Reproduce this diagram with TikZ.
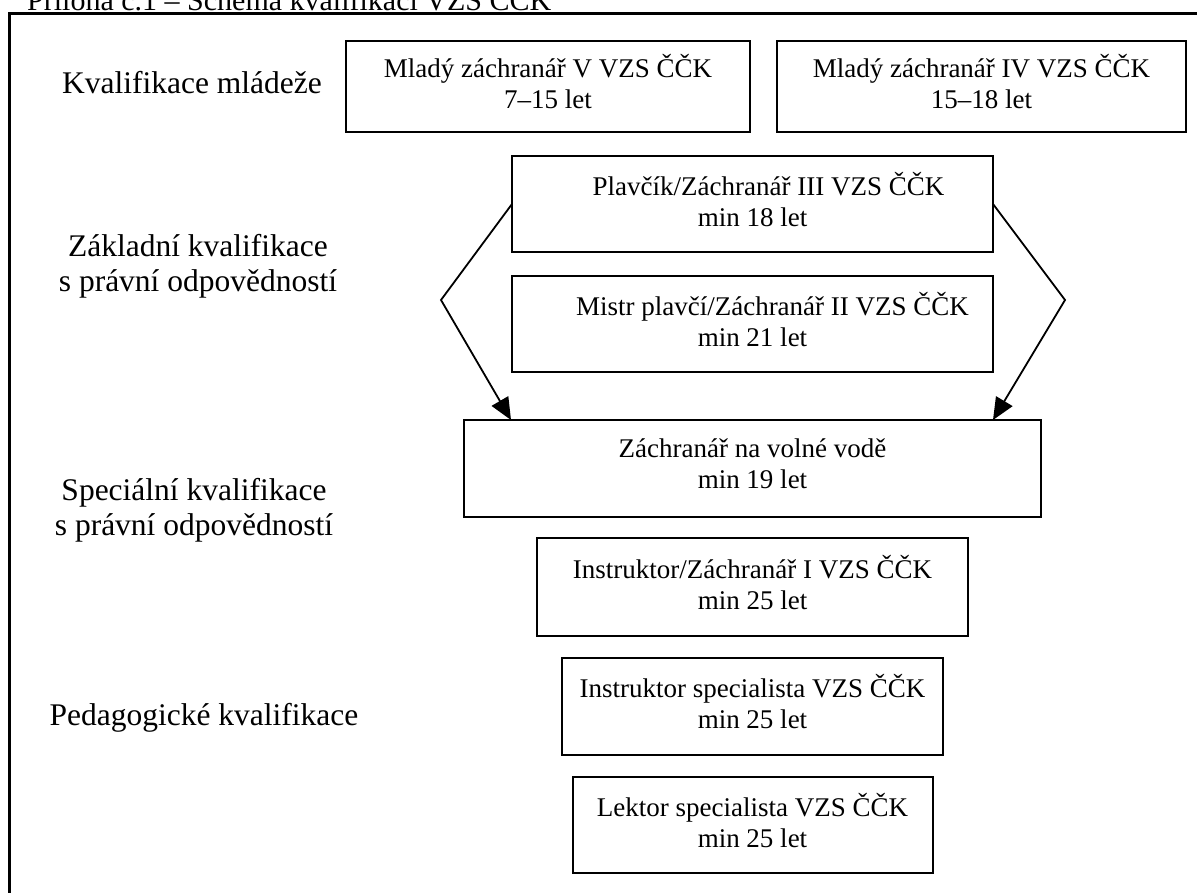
\documentclass[tikz,border=0pt]{standalone}
\usepackage{fontspec}
\setmainfont{Liberation Serif}
\usetikzlibrary{positioning, calc, arrows.meta}
\newcommand{\boxfont}{\fontsize{27}{31}\selectfont}
\newcommand{\lblfont}{\fontsize{31.5}{35}\selectfont}
% lifts the two lines of a box a little above its centre
\newcommand{\boxend}{\\[-21pt]\mbox{}}
\begin{document}
\begin{tikzpicture}[
  x=1pt, y=-1pt,
  box/.style={draw, line width=2pt, outer sep=0pt, inner sep=0pt, align=center, font=\boxfont},
  lbl/.style={align=center, font=\lblfont},
  frame/.style={line width=3pt},
  arr/.style={line width=1.8pt, -{Triangle[length=22pt, width=19pt]}}
]
  \useasboundingbox (0,0) rectangle (1197,893);
  \clip (0,0) rectangle (1197,893);

  % Title and frame
  \node[anchor=base west, inner sep=0pt, font=\fontsize{30}{34}\selectfont] (title) at (27,11)
    {Příloha č.1 – Schéma kvalifikací VZS ČČK};
  \draw[frame] (9.5,900) -- (9.5,14) -- (1210,14);

  % Level labels
  \node[lbl, anchor=base] (mladez) at (192,94) {Kvalifikace mládeže};
  \node[lbl] (zakladni) at (198,266) {Základní kvalifikace\\s právní odpovědností};
  \node[lbl] (specialni) at (194,510) {Speciální kvalifikace\\s právní odpovědností};
  \node[lbl, anchor=base] (pedag) at (204,725) {Pedagogické kvalifikace};

  % Nodes
  \node[box, minimum width=404pt, minimum height=91pt] (mzV) at (548,86.5)
    {Mladý záchranář V VZS ČČK\\7–15 let\boxend};
  \node[box, minimum width=409pt, minimum height=91pt, right=27pt of mzV] (mzIV)
    {Mladý záchranář IV VZS ČČK\\15–18 let\boxend};
  \node[box, minimum width=481pt, minimum height=96pt] (plav) at (752.5,204)
    {\hspace*{32pt}Plavčík/Záchranář III VZS ČČK\\min 18 let\boxend};
  \node[box, minimum width=481pt, minimum height=96pt, below=24pt of plav] (mistr)
    {\hspace*{40pt}Mistr plavčí/Záchranář II VZS ČČK\\min 21 let\boxend};
  \node[box, minimum width=577pt, minimum height=97pt, below=48pt of mistr] (volna)
    {Záchranář na volné vodě\\min 19 let\hspace*{24pt}\boxend};
  \node[box, minimum width=431pt, minimum height=98pt, below=21pt of volna] (instr)
    {Instruktor/Záchranář I VZS ČČK\\min 25 let\hspace*{24pt}\boxend};
  \node[box, minimum width=381pt, minimum height=97pt, below=22pt of instr] (instrspec)
    {Instruktor specialista VZS ČČK\\min 25 let\hspace*{24pt}\boxend};
  \node[box, minimum width=360pt, minimum height=96pt, below=22pt of instrspec] (lektor)
    {Lektor specialista VZS ČČK\\min 25 let\boxend};

  % Bends of the two arrows
  \coordinate (lbend) at (441,300);
  \coordinate (rbend) at (1065,300);

  % Arrows
  \draw[arr] (plav.west) -- (lbend) -- ($(volna.north west)+(47,0)$);
  \draw[arr] (plav.east) -- (rbend) -- ($(volna.north east)+(-48,0)$);
\end{tikzpicture}
\end{document}
